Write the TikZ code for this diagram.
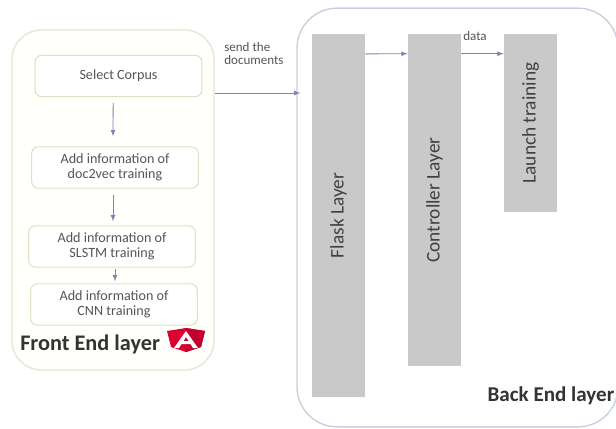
\documentclass[tikz,border=0pt]{standalone}
\usepackage{fontspec}
\setmainfont{Carlito}
\definecolor{paneline}{HTML}{E2E7D3}
\definecolor{backline}{HTML}{C6CEDF}
\definecolor{boxline}{HTML}{DDE2C6}
\definecolor{layergray}{HTML}{C9C9C9}
\definecolor{flowline}{HTML}{7C82B2}
\definecolor{labelgray}{HTML}{555555}
\definecolor{angularred}{HTML}{DD0031}
\definecolor{angulardark}{HTML}{C3002F}
\tikzset{
  stepbox/.style={draw=boxline, line width=0.8pt, rounded corners=5pt, fill=white,
    minimum width=125pt, minimum height=31pt, align=center, text=labelgray,
    font=\fontsize{10.6}{11.5}\selectfont},
  layerbox/.style={fill=layergray, minimum width=40pt, text=black!75,
    font=\fontsize{14.5}{16}\selectfont},
  flow/.style={draw=flowline, line width=0.6pt, -latex},
  caption/.style={font=\bfseries\fontsize{16.7}{18}\selectfont, text=black!80, inner sep=0pt},
  note/.style={font=\fontsize{9.8}{10.2}\selectfont, text=labelgray, align=left, inner sep=0pt}
}
\begin{document}
\begin{tikzpicture}[x=0.75pt, y=-0.75pt]
  \useasboundingbox (0,0) rectangle (616,428);
  \node[draw=paneline, line width=1pt, rounded corners=22pt, fill=yellow!1,
    minimum width=151.5pt, minimum height=255pt] (front) at (113,200) {};
  \node[draw=backline, line width=1pt, rounded corners=30pt, fill=white,
    minimum width=240.75pt, minimum height=314pt] (back) at (457.5,217.5) {};

  \node[stepbox] (corpus) at (118.5,76) {Select Corpus};
  \node[stepbox] (doctrain) at (115,167.5) {Add information of\\doc2vec training};
  \node[stepbox] (slstm) at (112,246.5) {Add information of\\SLSTM training};
  \node[stepbox] (cnn) at (114,304.5) {Add information of\\CNN training};
  \node[caption, anchor=west] (fronttitle) at (20,344) {Front End layer};

  \fill[angularred] (186,328) -- (205,331) -- (201,347) -- (186,352) -- (171,347) -- (167,331) -- cycle;
  \fill[angulardark] (186,328) -- (205,331) -- (201,347) -- (186,352) -- cycle;
  \fill[white, even odd rule] (186,331) -- (198,348) -- (193,348) -- (190.5,344) -- (181.5,344)
    -- (179,348) -- (174,348) -- cycle (186,337) -- (183.5,341) -- (188.5,341) -- cycle;

  \node[layerbox, minimum height=272pt] (flask) at (338.5,215.5) {\rotatebox{90}{Flask Layer}};
  \node[layerbox, minimum height=249pt] (control) at (434.5,200) {\rotatebox{90}{Controller Layer}};
  \node[layerbox, minimum height=133.5pt] (launch) at (530.5,123) {\rotatebox{90}{Launch training}};
  \node[caption, anchor=east, font=\bfseries\fontsize{15.8}{18}\selectfont] (backtitle) at (614.5,396) {Back End layer};

  \node[note, anchor=west] (sendnote) at (224,53.5) {send the\\documents};
  \node[note, anchor=west] (datanote) at (463,36) {data};

  \coordinate (sendlevel) at (0,93);
  \draw[flow] ([xshift=-4pt, yshift=-4.5pt]corpus.south) -- ([xshift=-1.5pt, yshift=7.5pt]doctrain.north);
  \draw[flow] ([xshift=-1.5pt, yshift=-5pt]doctrain.south) -- ([xshift=0.75pt, yshift=3pt]slstm.north);
  \draw[flow] ([xshift=2.25pt, yshift=-0.75pt]slstm.south) -- ([xshift=0.75pt, yshift=1.5pt]cnn.north);
  \draw[flow, shorten >=-3pt] (front.east |- sendlevel) -- (back.west |- sendlevel);
  \draw[flow] ([yshift=-15pt]flask.north east) -- ([yshift=-15pt]control.north west);
  \draw[flow] ([yshift=-15pt]control.north east) -- ([yshift=-15pt]launch.north west);
\end{tikzpicture}
\end{document}
